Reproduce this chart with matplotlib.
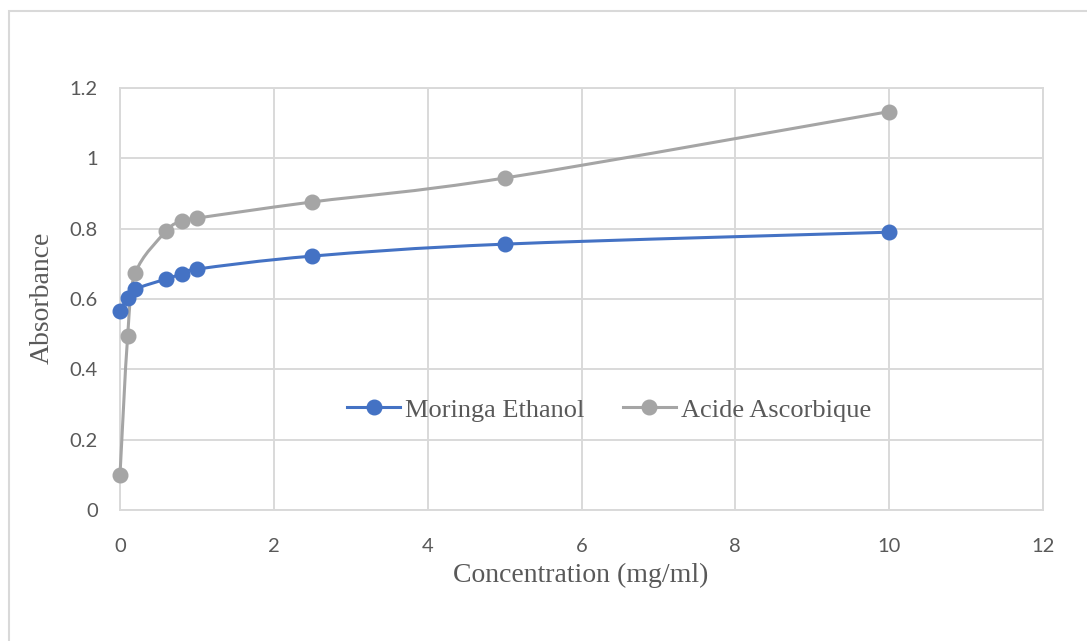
import numpy as np
import matplotlib.pyplot as plt
from matplotlib.path import Path
from matplotlib.patches import PathPatch, Rectangle
from matplotlib.lines import Line2D

# concentrations (mg/ml) and measured absorbances
conc = [0, 0.1, 0.2, 0.6, 0.8, 1, 2.5, 5, 10]
abs_moringa = [0.566, 0.603, 0.628, 0.657, 0.671, 0.685, 0.722, 0.756, 0.790]
abs_ascorbic = [0.100, 0.495, 0.674, 0.793, 0.822, 0.830, 0.876, 0.944, 1.133]

blue = '#4472C4'
gray = '#A5A5A5'
grid_col = '#D9D9D9'
text_col = '#595959'
serif = ['Liberation Serif', 'DejaVu Serif']
sans = ['Lato', 'DejaVu Sans']


def smooth_path(x, y):
    # cardinal spline through the points, written as cubic bezier segments
    pts = np.column_stack([x, y]).astype(float)
    n = len(pts)
    verts = [pts[0]]
    codes = [Path.MOVETO]
    for i in range(n - 1):
        p0 = pts[max(i - 1, 0)]
        p1 = pts[i]
        p2 = pts[i + 1]
        p3 = pts[min(i + 2, n - 1)]
        c1 = p1 + (p2 - p0) / 6
        c2 = p2 - (p3 - p1) / 6
        verts += [c1, c2, p2]
        codes += [Path.CURVE4] * 3
    return Path(verts, codes)


fig = plt.figure(figsize=(10.87, 6.41), dpi=100)
fig.patches.append(Rectangle((9 / 1087, -0.1), 1.2, 1 - 11 / 641 + 0.1,
                             transform=fig.transFigure, fill=False,
                             edgecolor=grid_col, linewidth=1.5))

ax = fig.add_axes([120 / 1087, 131 / 641, 923 / 1087, 422 / 641])
ax.set_xlim(0, 12)
ax.set_ylim(0, 1.2)
ax.set_xticks(np.arange(0, 13, 2))
ax.set_yticks(np.arange(0, 1.21, 0.2))
ax.set_xticklabels([str(v) for v in range(0, 13, 2)])
ax.set_yticklabels(['0', '0.2', '0.4', '0.6', '0.8', '1', '1.2'])
ax.grid(True, color=grid_col, linewidth=1.4)
ax.set_axisbelow(True)
for s in ax.spines.values():
    s.set_color(grid_col)
    s.set_linewidth(1.4)
ax.tick_params(length=0, labelsize=14.5, labelcolor=text_col)
ax.tick_params(axis='x', pad=20)
ax.tick_params(axis='y', pad=16)
for lab in ax.get_xticklabels() + ax.get_yticklabels():
    lab.set_family(sans)

for y, col in [(abs_moringa, blue), (abs_ascorbic, gray)]:
    ax.add_patch(PathPatch(smooth_path(conc, y), facecolor='none',
                           edgecolor=col, linewidth=2.2, zorder=3,
                           clip_on=False))
    ax.plot(conc, y, 'o', color=col, markersize=10.5, zorder=4, clip_on=False)

ax.set_xlabel('Concentration (mg/ml)', family=serif, fontsize=20, color=text_col)
ax.set_ylabel('Absorbance', family=serif, fontsize=20, color=text_col)
ax.xaxis.set_label_coords(0.4995, -0.126)
ax.yaxis.set_label_coords(-0.0704, 0.502)

handles = [Line2D([], [], color=blue, linewidth=2.2, marker='o', markersize=10.5),
           Line2D([], [], color=gray, linewidth=2.2, marker='o', markersize=10.5)]
leg = ax.legend(handles, ['Moringa Ethanol', 'Acide Ascorbique'], ncol=2,
                loc='center', bbox_to_anchor=(0.530, 0.237), frameon=False,
                prop={'family': serif, 'size': 19}, labelcolor=text_col,
                handlelength=2.0, handletextpad=0.2, columnspacing=1.45)

fig.savefig('out.png', dpi=100)
